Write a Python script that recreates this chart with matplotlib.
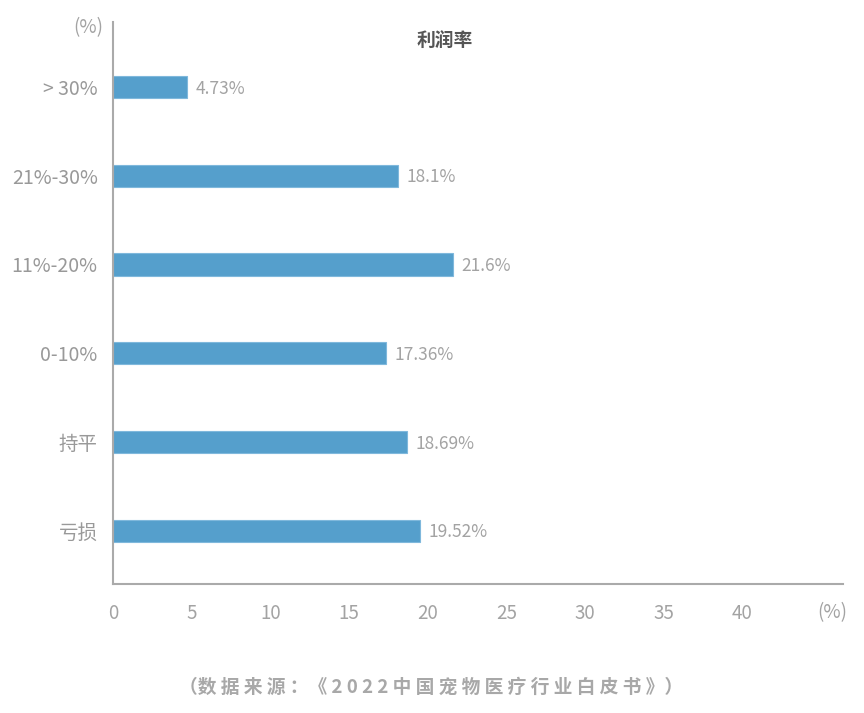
import matplotlib.pyplot as plt

plt.rcParams['font.family'] = ['Noto Sans CJK SC', 'DejaVu Sans']

# data (bottom to top)
categories = ['亏损', '持平', '0-10%', '11%-20%', '21%-30%', '> 30%']
values = [19.52, 18.69, 17.36, 21.6, 18.1, 4.73]
value_labels = ['19.52%', '18.69%', '17.36%', '21.6%', '18.1%', '4.73%']
xticks = [0, 5, 10, 15, 20, 25, 30, 35, 40]

bar_color = '#559fcc'
grey = '#a3a3a3'

fig = plt.figure(figsize=(8.64, 7.13), dpi=100)
ax = fig.add_axes([0.1308, 0.181, 0.8449, 0.788])

pos = range(len(categories))
ax.barh(pos, values, height=0.25, color=bar_color, edgecolor='#7fb8dc', linewidth=0.8)
for p, v, lab in zip(pos, values, value_labels):
    ax.text(v + 0.55, p - 0.02, lab, va='center', ha='left', fontsize=12.5, color=grey,
            fontweight='light')

ax.set_xlim(0, 46.4)
ax.set_ylim(-0.6, 5.73)
ax.set_xticks(xticks)
ax.set_xticklabels([str(t) for t in xticks])
ax.set_yticks(list(pos))
ax.set_yticklabels(categories)
ax.tick_params(axis='x', length=0, pad=14, labelsize=13.5, labelcolor=grey)
ax.tick_params(axis='y', length=0, pad=11, labelsize=14, labelcolor='#999999')
for lab in ax.get_xticklabels() + ax.get_yticklabels():
    lab.set_fontweight('light')

for s in ['top', 'right']:
    ax.spines[s].set_visible(False)
for s in ['left', 'bottom']:
    ax.spines[s].set_color('#aaaaaa')
    ax.spines[s].set_linewidth(1.5)

# unit labels and title
fig.text(88 / 864, 1 - 28 / 713, '(%)', ha='center', va='center', fontsize=13.5,
         color=grey, fontweight='light')
fig.text(832 / 864, 1 - 613 / 713, '(%)', ha='center', va='center', fontsize=13.5,
         color=grey, fontweight='light')
fig.text(445 / 864, 1 - 40 / 713, '利润率', ha='center', va='center', fontsize=13.5,
         color='#555555', fontweight='bold')

# source note
fig.text(431 / 864, 1 - 687 / 713, '（数 据 来 源 ：《 2 0 2 2 中 国 宠 物 医 疗 行 业 白 皮 书 》）',
         ha='center', va='center', fontsize=13.5, color='#a8a8a8', fontweight='bold')

fig.savefig('out.png', dpi=100, facecolor='white')
